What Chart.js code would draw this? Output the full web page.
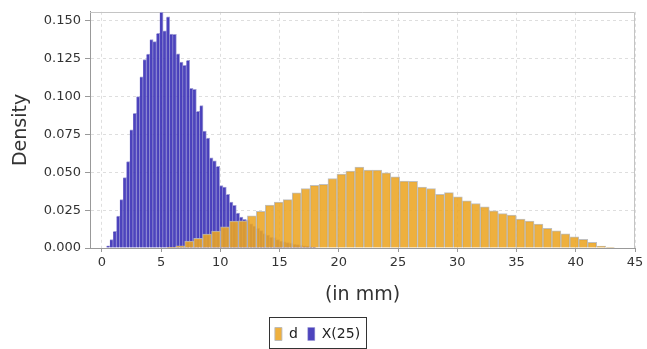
<!DOCTYPE html>
<html>
<head>
<meta charset="utf-8">
<script src="https://cdn.jsdelivr.net/npm/chart.js@4.4.1/dist/chart.umd.min.js"></script>
<style>
  body { margin: 0; background: #fff; }
</style>
</head>
<body>
<canvas id="histChart" width="647" height="349"></canvas>
<script>
const seriesNames = ['d', 'X(25)'];

// histogram bins: left edge of first bin and bin width (mm)
const dStart = 5.48, dWidth = 0.756;
const xStart = 0.396, xWidth = 0.2808;

const dDensity = [
    0.0005, 0.0015, 0.0046, 0.0064, 0.0092, 0.0112, 0.0140, 0.0178, 0.0180, 0.0213,
    0.0243, 0.0283, 0.0303, 0.0320, 0.0365, 0.0393, 0.0414, 0.0420, 0.0459, 0.0488,
    0.0508, 0.0535, 0.0515, 0.0515, 0.0496, 0.0470, 0.0442, 0.0441, 0.0403, 0.0393,
    0.0355, 0.0366, 0.0338, 0.0311, 0.0294, 0.0272, 0.0245, 0.0228, 0.0217, 0.0191,
    0.0178, 0.0158, 0.0130, 0.0114, 0.0094, 0.0074, 0.0057, 0.0037, 0.0013, 0.0003
];

const x25Density = [
    0.0015, 0.0055, 0.0110, 0.0210, 0.0320, 0.0465, 0.0570, 0.0780, 0.0890, 0.1000,
    0.1130, 0.1245, 0.1280, 0.1376, 0.1363, 0.1418, 0.1556, 0.1435, 0.1526, 0.1413,
    0.1411, 0.1282, 0.1228, 0.1207, 0.1240, 0.1054, 0.1048, 0.0902, 0.0940, 0.0772,
    0.0726, 0.0596, 0.0576, 0.0539, 0.0413, 0.0402, 0.0354, 0.0304, 0.0282, 0.0230,
    0.0205, 0.0190, 0.0185, 0.0160, 0.0145, 0.0130, 0.0115, 0.0095, 0.0085, 0.0070,
    0.0068, 0.0055, 0.0045, 0.0040, 0.0035, 0.0032, 0.0025, 0.0022, 0.0018, 0.0015,
    0.0012, 0.0008, 0.0005
];

const xTicks = [0, 5, 10, 15, 20, 25, 30, 35, 40, 45];
const yTicks = [0, 0.025, 0.05, 0.075, 0.1, 0.125, 0.15];

const FONT = 'DejaVu Sans';

function toPoints(values, start, width) {
    return values.map((v, i) => ({ x: start + width * (i + 0.5), y: v }));
}

// plot outline (top/right) and the boxed legend
const framePlugin = {
    id: 'frame',
    beforeDatasetsDraw(chart) {
        const { ctx, chartArea: a } = chart;
        ctx.save();
        ctx.strokeStyle = '#c4c4c4';
        ctx.lineWidth = 1;
        ctx.beginPath();
        ctx.moveTo(a.left, Math.round(a.top) + 0.5);
        ctx.lineTo(Math.round(a.right) - 0.5, Math.round(a.top) + 0.5);
        ctx.lineTo(Math.round(a.right) - 0.5, a.bottom);
        ctx.stroke();
        ctx.restore();
    },
    afterDraw(chart) {
        const boxes = chart.legend.legendHitBoxes;
        if (!boxes || !boxes.length) return;
        const ctx = chart.ctx;
        const l = Math.min(...boxes.map(b => b.left)) - 6;
        const r = Math.max(...boxes.map(b => b.left + b.width)) + 6;
        const t = boxes[0].top - 10;
        const b = boxes[0].top + boxes[0].height + 7;
        ctx.save();
        ctx.strokeStyle = '#333';
        ctx.lineWidth = 1;
        ctx.strokeRect(Math.round(l) + 0.5, Math.round(t) + 0.5, Math.round(r - l), Math.round(b - t));
        ctx.restore();
    }
};

const ctx = document.getElementById('histChart').getContext('2d');
new Chart(ctx, {
    type: 'bar',
    data: {
        datasets: [{
            label: seriesNames[0],
            data: toPoints(dDensity, dStart, dWidth),
            backgroundColor: 'rgba(236, 165, 35, 0.88)',
            borderColor: 'rgba(185, 185, 185, 0.9)',
            borderWidth: 1,
            stack: 'all'
        }, {
            label: seriesNames[1],
            data: toPoints(x25Density, xStart, xWidth),
            backgroundColor: 'rgba(58, 48, 182, 0.9)',
            borderColor: 'rgba(150, 148, 210, 0.9)',
            borderWidth: { top: 1, right: 1, left: 0, bottom: 0 },
            stack: 'all'
        }]
    },
    options: {
        responsive: false,
        animation: false,
        devicePixelRatio: 1,
        barThickness: 'flex',
        categoryPercentage: 1,
        barPercentage: 1,
        layout: { padding: { top: 10, right: 12, bottom: -2, left: 0 } },
        plugins: {
            legend: {
                position: 'bottom',
                labels: {
                    boxWidth: 7,
                    boxHeight: 13,
                    padding: 10,
                    color: '#222',
                    font: { family: FONT, size: 14 }
                }
            },
            tooltip: { enabled: false }
        },
        scales: {
            x: {
                type: 'linear',
                min: -1,
                max: 45,
                offset: false,
                afterBuildTicks: (scale) => { scale.ticks = xTicks.map(v => ({ value: v })); },
                afterFit: (scale) => { scale.height = 69; },
                ticks: {
                    color: '#333',
                    padding: 3,
                    font: { family: FONT, size: 13 },
                    callback: (v) => String(v)
                },
                grid: {
                    offset: false,
                    color: '#dedede',
                    tickColor: '#999',
                    tickLength: 4,
                    tickBorderDash: []
                },
                border: { color: '#999', dash: [3, 3] },
                title: {
                    display: true,
                    text: '(in mm)',
                    color: '#333',
                    font: { family: FONT, size: 19 },
                    padding: { top: 0, bottom: 11 }
                }
            },
            y: {
                min: 0,
                max: 0.156,
                stacked: false,
                afterBuildTicks: (scale) => { scale.ticks = yTicks.map(v => ({ value: v })); },
                afterFit: (scale) => { scale.width = 90; },
                ticks: {
                    color: '#333',
                    padding: 4,
                    font: { family: FONT, size: 13 },
                    callback: (v) => v.toFixed(3)
                },
                grid: {
                    color: '#dedede',
                    tickColor: '#999',
                    tickLength: 5,
                    tickBorderDash: []
                },
                border: { color: '#999', dash: [3, 3] },
                title: {
                    display: true,
                    text: 'Density',
                    color: '#333',
                    font: { family: FONT, size: 19 },
                    padding: { top: 10, bottom: 0 }
                }
            }
        }
    },
    plugins: [framePlugin]
});
</script>
</body>
</html>
